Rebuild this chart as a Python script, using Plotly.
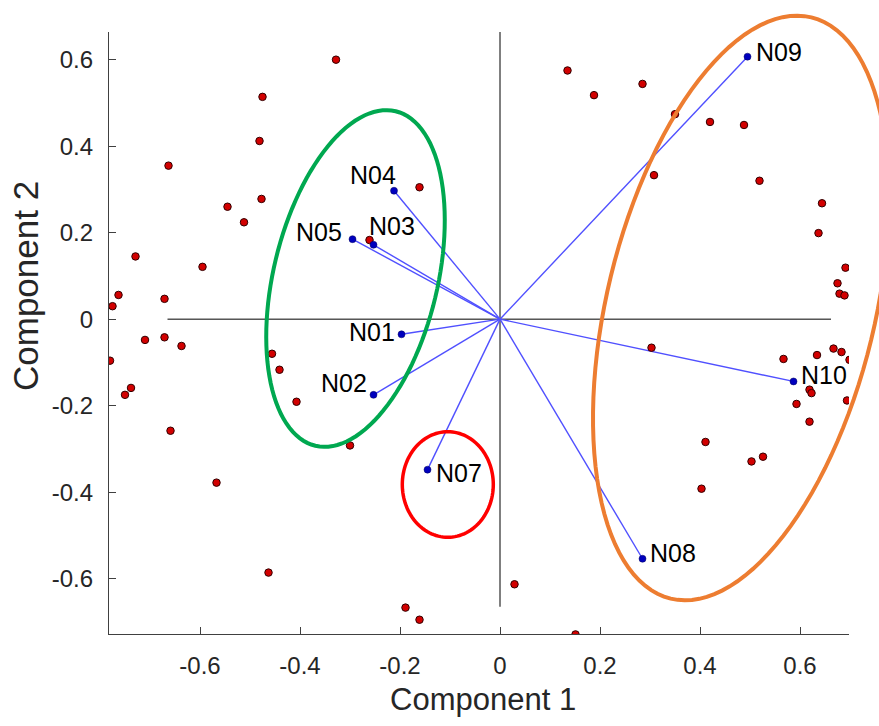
import math
import plotly.graph_objects as go

# ---------------- data ----------------
var_names = ["N01", "N02", "N03", "N04", "N05", "N07", "N08", "N09", "N10"]
var_x = [-0.197, -0.253, -0.253, -0.212, -0.295, -0.145, 0.285, 0.495, 0.587]
var_y = [-0.035, -0.175, 0.172, 0.297, 0.185, -0.348, -0.554, 0.607, -0.144]

score_x = [-0.328, -0.475, -0.481, -0.663, -0.477, -0.545, -0.512, -0.161, -0.261,
           -0.729, -0.595, -0.763, -0.775, -0.671, -0.710, -0.671, -0.637, -0.780,
           -0.750, -0.738, -0.659, -0.567, -0.463, -0.456, -0.441, -0.407, -0.300,
           -0.189, -0.161,
           0.135, 0.188, 0.285, 0.350, 0.420, 0.488, 0.308, 0.519, 0.644, 0.637,
           0.691, 0.675, 0.679, 0.689, 0.303, 0.567, 0.634, 0.667, 0.683, 0.699,
           0.619, 0.623, 0.694, 0.593, 0.619, 0.411, 0.526, 0.503, 0.403, 0.029,
           0.151]
score_y = [0.600, 0.514, 0.412, 0.355, 0.278, 0.260, 0.224, 0.305, 0.183,
           0.145, 0.121, 0.056, 0.030, 0.047, -0.048, -0.042, -0.062, -0.096,
           -0.175, -0.159, -0.258, -0.378, -0.586, -0.080, -0.117, -0.191, -0.292,
           -0.667, -0.695,
           0.575, 0.518, 0.544, 0.474, 0.456, 0.449, 0.333, 0.320, 0.268, 0.199,
           0.119, 0.083, 0.059, 0.055, -0.066, -0.092, -0.083, -0.068, -0.076, -0.094,
           -0.163, -0.171, -0.188, -0.196, -0.237, -0.284, -0.318, -0.329, -0.392, -0.613,
           -0.729]

biplot_axis_x = [-0.665, 0.662]
biplot_axis_y = [-0.665, 0.665]

xtick_vals = [-0.6, -0.4, -0.2, 0, 0.2, 0.4, 0.6]
xtick_text = ["-0.6", "-0.4", "-0.2", "0", "0.2", "0.4", "0.6"]
ytick_vals = [-0.6, -0.4, -0.2, 0, 0.2, 0.4, 0.6]
ytick_text = ["-0.6", "-0.4", "-0.2", "0", "0.2", "0.4", "0.6"]

x_title = "Component 1"
y_title = "Component 2"

# ---------------- layout geometry ----------------
W, H = 879, 726
ML, MR, MT, MB = 109, 30, 32, 92
XR = [-0.782, 0.698]
YR = [-0.728, 0.664]
PW = W - ML - MR
PH = H - MT - MB

FONT = "Liberation Sans, Arial, sans-serif"

fig = go.Figure()

# biplot axes lines
fig.add_trace(go.Scatter(x=biplot_axis_x, y=[0, 0], mode="lines",
                         line=dict(color="black", width=1), hoverinfo="skip",
                         showlegend=False))
fig.add_trace(go.Scatter(x=[0, 0], y=biplot_axis_y, mode="lines",
                         line=dict(color="black", width=1), hoverinfo="skip",
                         showlegend=False))

# vectors
for vx, vy in zip(var_x, var_y):
    fig.add_trace(go.Scatter(x=[0, vx], y=[0, vy], mode="lines",
                             line=dict(color="rgb(80,80,255)", width=1.4),
                             hoverinfo="skip", showlegend=False))

# scores
fig.add_trace(go.Scatter(x=score_x, y=score_y, mode="markers",
                         marker=dict(size=7.5, color="rgb(210,0,0)",
                                     line=dict(color="rgb(50,0,0)", width=1)),
                         showlegend=False))

# vector end points
fig.add_trace(go.Scatter(x=var_x, y=var_y, mode="markers",
                         marker=dict(size=7, color="rgb(0,0,190)",
                                     line=dict(color="rgb(0,0,90)", width=0.5)),
                         showlegend=False))

# labels (anchor side, xshift, yshift) -- styling only
label_style = {
    "N01": ("right", -5, 2),
    "N02": ("right", -5, 12),
    "N03": ("left", -7, 19),
    "N04": ("right", 4, 16),
    "N05": ("right", -9, 7),
    "N07": ("left", 6, -3),
    "N08": ("left", 5, 6),
    "N09": ("left", 6, 5),
    "N10": ("left", 5, 6),
}
for name, vx, vy in zip(var_names, var_x, var_y):
    anc, xs, ys = label_style[name]
    fig.add_annotation(x=vx, y=vy, text=name, showarrow=False,
                       xanchor=anc, yanchor="middle", xshift=xs, yshift=ys,
                       font=dict(family=FONT, size=25, color="black"))


# ---------------- hand-drawn ellipses (pixel geometry -> paper coords) ----------------
def ellipse_path(cx, cy, a, b, tilt_deg, n=120):
    # cx, cy in figure pixels; a: semi-axis along the tilted vertical, b: across
    t = math.radians(tilt_deg)
    ux, uy = math.sin(t), -math.cos(t)   # major axis direction (screen coords)
    vx, vy = math.cos(t), math.sin(t)
    pts = []
    for i in range(n + 1):
        th = 2 * math.pi * i / n
        px = cx + a * math.cos(th) * ux + b * math.sin(th) * vx
        py = cy + a * math.cos(th) * uy + b * math.sin(th) * vy
        X = (px - ML) / PW
        Y = (H - MB - py) / PH
        pts.append((X, Y))
    return "M " + " L ".join(f"{x:.5f},{y:.5f}" for x, y in pts) + " Z"


ellipses = [
    (355.5, 278.5, 172.0, 82.0, 13.5, "rgb(0,168,80)", 4),
    (741.0, 308.0, 299.0, 134.0, 13.6, "rgb(237,125,49)", 4),
    (447.8, 484.5, 52.8, 45.5, 0.0, "rgb(255,0,0)", 3.5),
]
for cx, cy, a, b, tl, col, lw in ellipses:
    fig.add_shape(type="path", path=ellipse_path(cx, cy, a, b, tl),
                  xref="paper", yref="paper", line=dict(color=col, width=lw),
                  fillcolor="rgba(0,0,0,0)", layer="above")

# axis titles
fig.add_annotation(x=(483 - ML) / PW, y=(H - MB - 699) / PH, xref="paper", yref="paper",
                   text=x_title, showarrow=False, xanchor="center", yanchor="middle",
                   font=dict(family=FONT, size=31, color="rgb(38,38,38)"))
fig.add_annotation(x=(25 - ML) / PW, y=(H - MB - 286) / PH, xref="paper", yref="paper",
                   text=y_title, showarrow=False, xanchor="center", yanchor="middle",
                   textangle=-90,
                   font=dict(family=FONT, size=35, color="rgb(38,38,38)"))

axis_common = dict(showgrid=False, zeroline=False, showline=True, mirror=False,
                   linecolor="rgb(64,64,64)", linewidth=1.2, ticks="inside",
                   ticklen=7, tickwidth=1, tickcolor="rgb(64,64,64)",
                   tickfont=dict(family=FONT, size=24, color="rgb(38,38,38)"))

fig.update_layout(
    width=W, height=H,
    margin=dict(l=ML, r=MR, t=MT, b=MB),
    plot_bgcolor="white", paper_bgcolor="white",
    xaxis=dict(range=XR, tickvals=xtick_vals, ticktext=xtick_text,
               ticklabelstandoff=10, **axis_common),
    yaxis=dict(range=YR, tickvals=ytick_vals, ticktext=ytick_text,
               ticklabelstandoff=10, **axis_common),
    showlegend=False,
)

fig.write_html("out.html")
